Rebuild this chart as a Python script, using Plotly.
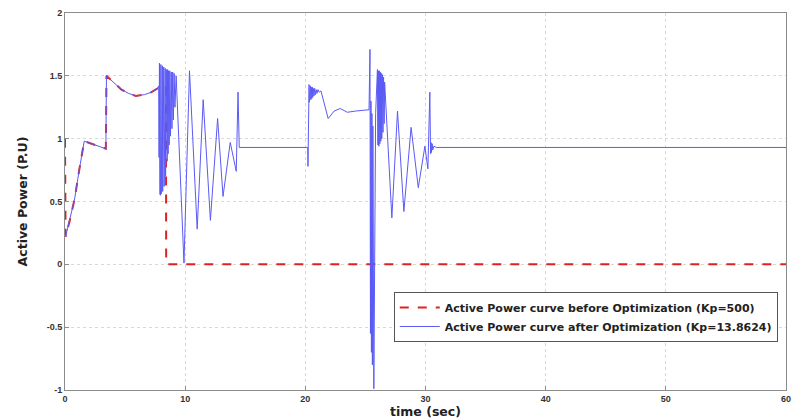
import plotly.graph_objects as go

# ---- data ----
t_before = [0, 0.05, 0.4, 0.8, 1.2, 1.6, 2.5, 3.4, 3.45, 4.0, 4.7, 5.3, 5.9, 6.6, 7.2, 7.7,
            8.4, 8.42, 60]
p_before = [1.0, 0.22, 0.35, 0.52, 0.76, 0.98, 0.95, 0.92, 1.5, 1.45, 1.39, 1.36, 1.34, 1.35, 1.37, 1.40,
            1.42, 0.0, 0.0]

t_after = [0.05, 0.4, 0.8, 1.2, 1.6, 2.5, 3.4, 3.45, 4.0, 4.7, 5.3, 5.9, 6.6, 7.2, 7.7,
           7.80, 7.83, 7.86, 7.89, 7.92, 7.95, 7.98, 8.01, 8.04, 8.07, 8.10, 8.13, 8.16, 8.19,
           8.22, 8.25, 8.28, 8.31, 8.34, 8.37, 8.40, 8.43, 8.46, 8.50, 8.54, 8.58, 8.62, 8.67,
           8.72, 8.78, 8.84, 8.90, 8.96, 9.02, 9.08, 9.15, 9.25,
           9.9, 10.36, 11.0, 11.5, 12.1, 12.7, 13.15, 13.75, 14.25, 14.4, 14.5,
           20.2, 20.22, 20.25, 20.28, 20.31, 20.34, 20.37, 20.40, 20.43, 20.46, 20.50, 20.54,
           20.58, 20.62, 20.67, 20.72, 20.78, 20.84, 20.90, 20.97, 21.05, 21.15,
           21.3, 21.9, 22.4, 22.9, 23.5, 24.2, 25.3,
           25.38, 25.42, 25.46, 25.50, 25.54, 25.58, 25.62, 25.7, 25.85,
           26.0, 26.04, 26.08, 26.12, 26.16, 26.2, 26.24, 26.28, 26.32, 26.36, 26.41, 26.46,
           26.51, 26.56, 26.6,
           27.2, 27.67, 28.2, 28.8, 29.4, 29.95, 30.2, 30.36, 30.42, 30.46, 30.5, 30.55, 30.6,
           30.7, 30.9, 60]
p_after = [0.22, 0.35, 0.52, 0.76, 0.98, 0.95, 0.92, 1.5, 1.45, 1.39, 1.36, 1.34, 1.35, 1.37, 1.40,
           1.42, 0.85, 1.60, 0.56, 1.59, 0.55, 1.59, 0.56, 1.58, 0.57, 1.58, 0.58, 1.57, 0.60,
           1.57, 0.62, 1.56, 0.66, 1.56, 0.70, 1.55, 0.75, 1.55, 0.82, 1.55, 0.88, 1.54, 0.95,
           1.54, 1.02, 1.53, 1.08, 1.53, 1.15, 1.52, 1.25, 1.50,
           0.01, 1.54, 0.28, 1.31, 0.35, 1.16, 0.54, 0.97, 0.74, 1.37, 0.93,
           0.93, 0.78, 1.43, 1.28, 1.43, 1.29, 1.42, 1.30, 1.42, 1.31, 1.41, 1.32,
           1.41, 1.33, 1.40, 1.34, 1.40, 1.35, 1.39, 1.36, 1.39, 1.37,
           1.38, 1.16, 1.22, 1.24, 1.21, 1.22, 1.23,
           1.71, -0.55, 1.3, -0.7, 1.2, -0.8, 1.1, -0.99, 1.2,
           1.55, 0.95, 1.54, 0.94, 1.54, 0.96, 1.53, 0.98, 1.52, 1.0, 1.51, 1.05,
           1.49, 1.12, 1.45,
           0.37, 1.22, 0.42, 1.09, 0.61, 0.94, 0.76, 1.37, 0.88, 0.97, 0.89, 0.96, 0.91,
           0.94, 0.93, 0.93]

x_ticks = [0, 10, 20, 30, 40, 50, 60]
y_ticks = [-1, -0.5, 0, 0.5, 1, 1.5, 2]
y_tick_text = ["-1", "-0.5", "0", "0.5", "1", "1.5", "2"]

fig = go.Figure()
fig.add_trace(go.Scatter(
    x=t_before, y=p_before, mode="lines",
    name="Active Power curve before Optimization (Kp=500)",
    line=dict(color="#e02020", width=2, dash="dash"),
))
fig.add_trace(go.Scatter(
    x=t_after, y=p_after, mode="lines",
    name="Active Power curve after Optimization (Kp=13.8624)",
    line=dict(color="#5a5af5", width=1),
))

tick_family = "Liberation Sans, Arial, sans-serif"
text_family = "DejaVu Sans, sans-serif"
axis_common = dict(
    showgrid=True, gridcolor="#d8d8d8", griddash="dot", gridwidth=1,
    zeroline=False, showline=True, linecolor="#8c8c8c", linewidth=1, mirror=True,
    ticks="inside", ticklen=4, tickcolor="#8c8c8c",
    tickfont=dict(family=tick_family, size=9, color="#333333", weight="bold"),
)
fig.update_xaxes(range=[0, 60], tickvals=x_ticks, **axis_common,
                 title=dict(text="time (sec)", standoff=1,
                            font=dict(family=text_family, size=12.5, color="#222222", weight="bold")))
fig.update_yaxes(range=[-1, 2], tickvals=y_ticks, ticktext=y_tick_text, **axis_common,
                 title=dict(text="Active Power (P.U)", standoff=16,
                            font=dict(family=text_family, size=12.5, color="#222222", weight="bold")))

fig.update_layout(
    width=798, height=421,
    margin=dict(l=65, r=7, t=13, b=29),
    plot_bgcolor="white", paper_bgcolor="white",
    showlegend=True,
    legend=dict(x=0.456, y=0.26, xanchor="left", yanchor="top",
                bgcolor="white", bordercolor="#555555", borderwidth=1,
                itemwidth=40,
                font=dict(family=text_family, size=11, color="#222222", weight="bold"),
                tracegroupgap=0),
)

fig.write_html(
    "out.html",
    config={"displayModeBar": False, "responsive": False},
    post_script="document.body.style.margin='0px';document.body.style.overflow='hidden';"
                "document.documentElement.style.overflow='hidden';",
)
